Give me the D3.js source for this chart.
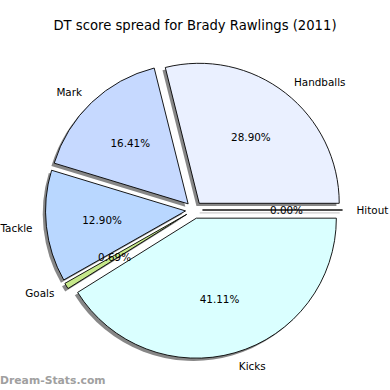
<!DOCTYPE html>
<html>
<head>
<meta charset="utf-8">
<script src="https://cdn.jsdelivr.net/npm/d3@7"></script>
<style>
  body { margin: 0; background: #fff; }
  text { font-family: "DejaVu Sans", sans-serif; }
</style>
</head>
<body>
<div id="chart"></div>
<script>
// data
const labels = ["Handballs", "Mark", "Tackle", "Goals", "Kicks", "Hitout"];
const values = [28.90, 16.41, 12.90, 0.69, 41.11, 0.00];
const colors = ["#eaf0ff", "#c6d9ff", "#b9d7ff", "#c6e88a", "#daffff", "#e0e0e0"];
const title = "DT score spread for Brady Rawlings (2011)";

function draw() {
  const W = 390, H = 390;
  const cx = 194, cy = 210;
  const r = 140;
  const explode = 8.5;
  const shadowDx = -2.8, shadowDy = 2.8;

  const svg = d3.select("#chart")
    .append("svg")
    .attr("width", W)
    .attr("height", H);

  // title
  svg.append("text")
    .attr("x", W / 2)
    .attr("y", 30)
    .attr("text-anchor", "middle")
    .attr("font-size", 13.2)
    .attr("fill", "#000")
    .text(title);

  // counterclockwise from 3 o'clock, like matplotlib
  const pie = d3.pie()
    .sort(null)
    .value(d => d.value)
    .startAngle(Math.PI / 2)
    .endAngle(Math.PI / 2 - 2 * Math.PI);

  const data = labels.map((l, i) => ({ label: l, value: values[i], color: colors[i] }));
  const arcs = pie(data);
  const total = d3.sum(values);

  const arc = d3.arc().innerRadius(0).outerRadius(r);

  // mid angle in d3 convention -> unit vector on screen
  const dir = d => {
    const a = (d.startAngle + d.endAngle) / 2;
    return [Math.sin(a), -Math.cos(a)];
  };

  const g = svg.append("g").attr("transform", `translate(${cx},${cy})`);

  // shadows first
  g.append("g")
    .selectAll("path")
    .data(arcs)
    .join("path")
    .attr("transform", d => {
      const [ux, uy] = dir(d);
      return `translate(${ux * explode + shadowDx},${uy * explode + shadowDy})`;
    })
    .attr("d", arc)
    .attr("fill", "#7a7a7a")
    .attr("stroke", d => d.value === 0 ? "#c8c8c8" : "none")
    .attr("stroke-width", 1.2)
    .attr("opacity", 0.9);

  // wedges
  g.append("g")
    .selectAll("path")
    .data(arcs)
    .join("path")
    .attr("transform", d => {
      const [ux, uy] = dir(d);
      return `translate(${ux * explode},${uy * explode})`;
    })
    .attr("d", arc)
    .attr("fill", d => d.data.color)
    .attr("stroke", "#000")
    .attr("stroke-width", 0.9)
    .attr("stroke-linejoin", "miter");

  // outer labels
  g.append("g")
    .selectAll("text")
    .data(arcs)
    .join("text")
    .attr("x", d => dir(d)[0] * (explode + 1.1 * r))
    .attr("y", d => dir(d)[1] * (explode + 1.1 * r))
    .attr("dy", "0.35em")
    .attr("text-anchor", d => dir(d)[0] > 0 ? "start" : "end")
    .attr("font-size", 10.4)
    .text(d => d.data.label);

  // percentages
  g.append("g")
    .selectAll("text")
    .data(arcs)
    .join("text")
    .attr("x", d => dir(d)[0] * (explode + 0.6 * r))
    .attr("y", d => dir(d)[1] * (explode + 0.6 * r))
    .attr("dy", "0.35em")
    .attr("text-anchor", "middle")
    .attr("font-size", 10.4)
    .text(d => (d.value / total * 100).toFixed(2) + "%");

  // watermark
  svg.append("text")
    .attr("x", 0)
    .attr("y", 384)
    .attr("font-size", 10.8)
    .attr("font-weight", "bold")
    .attr("fill", "#a0a0a0")
    .text("Dream-Stats.com");
}

draw();
</script>
</body>
</html>
